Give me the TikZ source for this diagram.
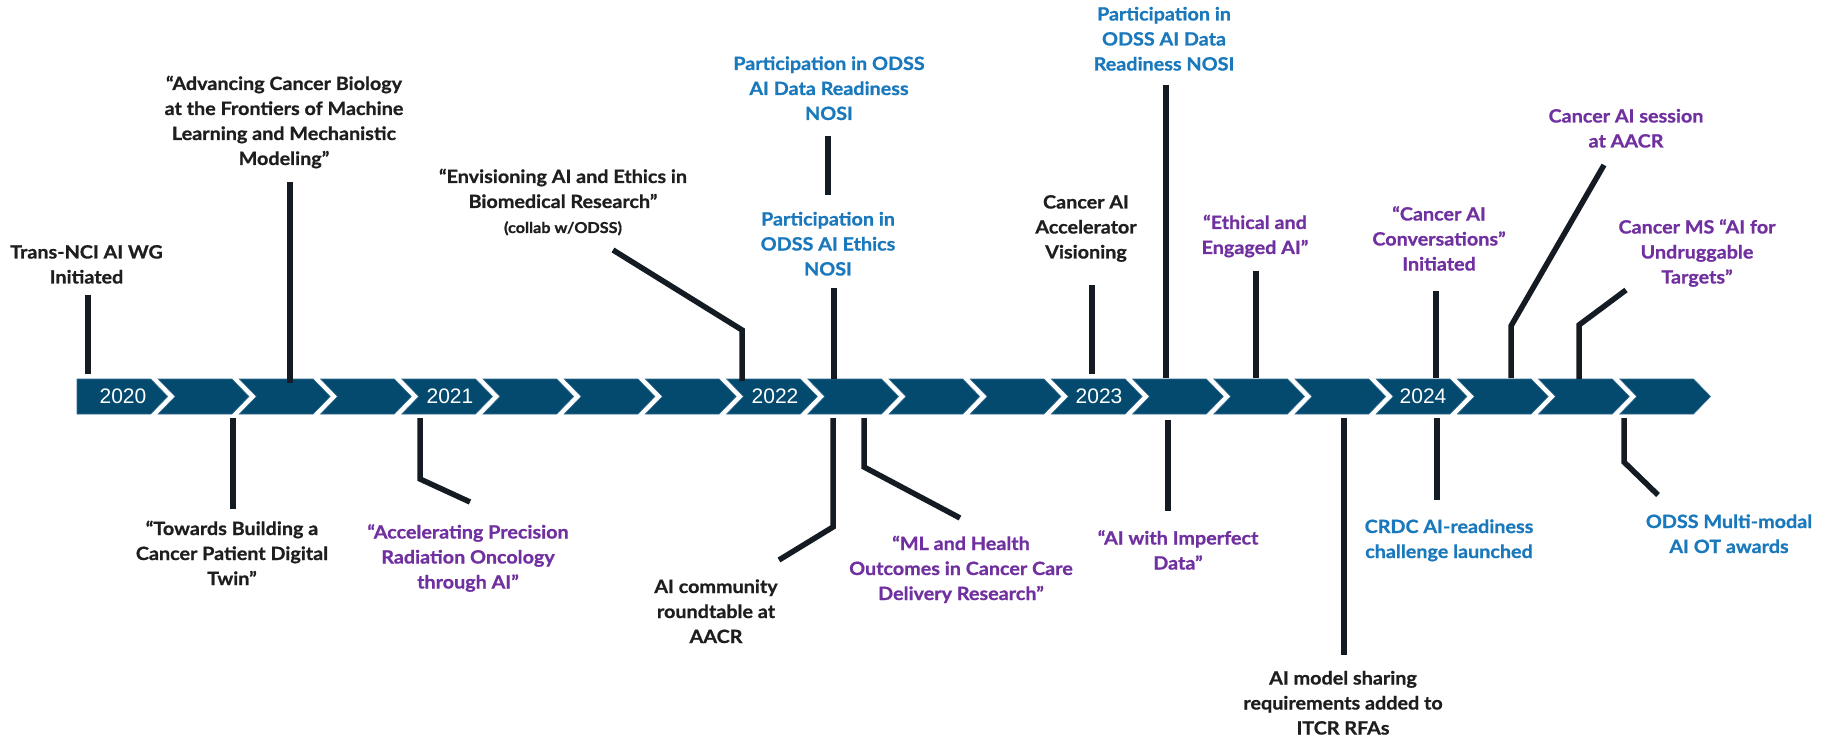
\documentclass[tikz,border=0pt]{standalone}
\usepackage{fontspec}
\newfontfamily\labelfont{Lato}[FakeStretch=1.08,FakeBold=0.9]
\newfontfamily\yearfont{Liberation Sans}
\definecolor{barblue}{HTML}{034A6E}
\definecolor{baredge}{HTML}{2F6A8E}
\definecolor{txtblue}{HTML}{1A78BC}
\definecolor{txtpurple}{HTML}{7030A0}
\definecolor{txtblack}{HTML}{1E1E1E}
\definecolor{linecol}{HTML}{141B22}
\tikzset{
  lbl/.style={align=center, inner sep=0pt, anchor=center,
    font=\labelfont\bfseries\fontsize{18.3}{25}\selectfont},
  blk/.style={lbl, text=txtblack},
  blu/.style={lbl, text=txtblue},
  pur/.style={lbl, text=txtpurple},
  yearlbl/.style={inner sep=0pt, text=white, font=\yearfont\fontsize{21}{25}\selectfont},
  conn/.style={draw=linecol, line width=5.5pt, line join=miter},
  seg/.style={fill=barblue, draw=baredge, line width=0.6pt}
}
\begin{document}
\begin{tikzpicture}[x=1pt,y=-1pt]
\useasboundingbox (0,0) rectangle (1829,738);
% chevron bar
\foreach \i in {0,...,19}{
  \pgfmathsetmacro\Lx{77+81.2*\i}
  \pgfmathsetmacro\Rx{\Lx+73.7}
  \ifnum\i=0
    \path[seg] (\Lx,379) -- (\Rx,379) -- ({\Rx+17},396.5) -- (\Rx,414) -- (\Lx,414) -- cycle;
  \else
    \path[seg] (\Lx,379) -- (\Rx,379) -- ({\Rx+17},396.5) -- (\Rx,414) -- (\Lx,414) -- ({\Lx+17},396.5) -- cycle;
  \fi
}
\node[yearlbl] (y2020) at (123,396.7) {2020};
\node[yearlbl] (y2021) at (450,396.7) {2021};
\node[yearlbl] (y2022) at (775,396.7) {2022};
\node[yearlbl] (y2023) at (1099,396.7) {2023};
\node[yearlbl] (y2024) at (1423,396.7) {2024};

% labels above
\node[blk] (t1) at (86.5,266) {\strut Trans-NCI AI WG\\Initiated\strut};
\node[blk] (t2) at (284,122.5) {\strut “Advancing Cancer Biology\\at the Frontiers of Machine\\Learning and Mechanistic\\Modeling”\strut};
\node[blk] (t3) at (563,203) {\strut “Envisioning AI and Ethics in\\Biomedical Research”\\\strut{\fontsize{15}{16}\selectfont (collab w/ODSS)}};
\node[blu] (t4) at (829,90) {\strut Participation in ODSS\\AI Data Readiness\\NOSI\strut};
\node[blu] (t5) at (828,245.5) {\strut Participation in\\ODSS AI Ethics\\NOSI\strut};
\node[blk] (t6) at (1086,228.5) {\strut Cancer AI\\Accelerator\\Visioning\strut};
\node[blu] (t7) at (1164,40.5) {\strut Participation in\\ODSS AI Data\\Readiness NOSI\strut};
\node[pur] (t8) at (1255,236.5) {\strut “Ethical and\\Engaged AI”\strut};
\node[pur] (t9) at (1439,240.5) {\strut “Cancer AI\\Conversations”\\Initiated\strut};
\node[pur] (t10) at (1626,130) {\strut Cancer AI session\\at AACR\strut};
\node[pur] (t11) at (1697,253.5) {\strut Cancer MS “AI for\\Undruggable\\Targets”\strut};
% labels below
\node[blk] (t12) at (232,555) {\strut “Towards Building a\\Cancer Patient Digital\\Twin”\strut};
\node[pur] (t13) at (468,558.5) {\strut “Accelerating Precision\\Radiation Oncology\\through AI”\strut};
\node[blk] (t14) at (716,613) {\strut AI community\\roundtable at\\AACR\strut};
\node[pur] (t15) at (961,570) {\strut “ML and Health\\Outcomes in Cancer Care\\Delivery Research”\strut};
\node[pur] (t16) at (1178,552) {\strut “AI with Imperfect\\Data”\strut};
\node[blk] (t17) at (1343,704.5) {\strut AI model sharing\\requirements added to\\ITCR RFAs\strut};
\node[blu] (t18) at (1449,540.5) {\strut CRDC AI-readiness\\challenge launched\strut};
\node[blu] (t19) at (1729,535.5) {\strut ODSS Multi-modal\\AI OT awards\strut};

% connector end points
\coordinate (c1a) at (88,295);   \coordinate (c1b) at (88,374);
\coordinate (c2a) at (290,182);  \coordinate (c2b) at (290,383);
\coordinate (c3a) at (613,250);  \coordinate (c3k) at (742,330); \coordinate (c3b) at (742,381);
\coordinate (c4a) at (828,136);  \coordinate (c4b) at (828,195);
\coordinate (c5a) at (834,288);  \coordinate (c5b) at (834,379);
\coordinate (c6a) at (1092,285); \coordinate (c6b) at (1092,374);
\coordinate (c7a) at (1166,85);  \coordinate (c7b) at (1166,378);
\coordinate (c8a) at (1256,271); \coordinate (c8b) at (1256,378);
\coordinate (c9a) at (1436,291); \coordinate (c9b) at (1436,378);
\coordinate (c10a) at (1604,165); \coordinate (c10k) at (1511,326); \coordinate (c10b) at (1511,378);
\coordinate (c11a) at (1626,290); \coordinate (c11k) at (1579,325); \coordinate (c11b) at (1579,379);
\coordinate (c12a) at (233,418);  \coordinate (c12b) at (233,509);
\coordinate (c13a) at (420,418);  \coordinate (c13k) at (420,479); \coordinate (c13b) at (470,502);
\coordinate (c14a) at (833,418);  \coordinate (c14k) at (833,527); \coordinate (c14b) at (779,560);
\coordinate (c15a) at (864,418);  \coordinate (c15k) at (864,467); \coordinate (c15b) at (960,518);
\coordinate (c16a) at (1168,420); \coordinate (c16b) at (1168,511);
\coordinate (c17a) at (1344,418); \coordinate (c17b) at (1344,655);
\coordinate (c18a) at (1437,418); \coordinate (c18b) at (1437,500);
\coordinate (c19a) at (1624,418); \coordinate (c19k) at (1624,462); \coordinate (c19b) at (1658,495);

\draw[conn] (c1a) -- (c1b);
\draw[conn] (c2a) -- (c2b);
\draw[conn] (c3a) -- (c3k) -- (c3b);
\draw[conn] (c4a) -- (c4b);
\draw[conn] (c5a) -- (c5b);
\draw[conn] (c6a) -- (c6b);
\draw[conn] (c7a) -- (c7b);
\draw[conn] (c8a) -- (c8b);
\draw[conn] (c9a) -- (c9b);
\draw[conn] (c10a) -- (c10k) -- (c10b);
\draw[conn] (c11a) -- (c11k) -- (c11b);
\draw[conn] (c12a) -- (c12b);
\draw[conn] (c13a) -- (c13k) -- (c13b);
\draw[conn] (c14a) -- (c14k) -- (c14b);
\draw[conn] (c15a) -- (c15k) -- (c15b);
\draw[conn] (c16a) -- (c16b);
\draw[conn] (c17a) -- (c17b);
\draw[conn] (c18a) -- (c18b);
\draw[conn] (c19a) -- (c19k) -- (c19b);
\end{tikzpicture}
\end{document}
